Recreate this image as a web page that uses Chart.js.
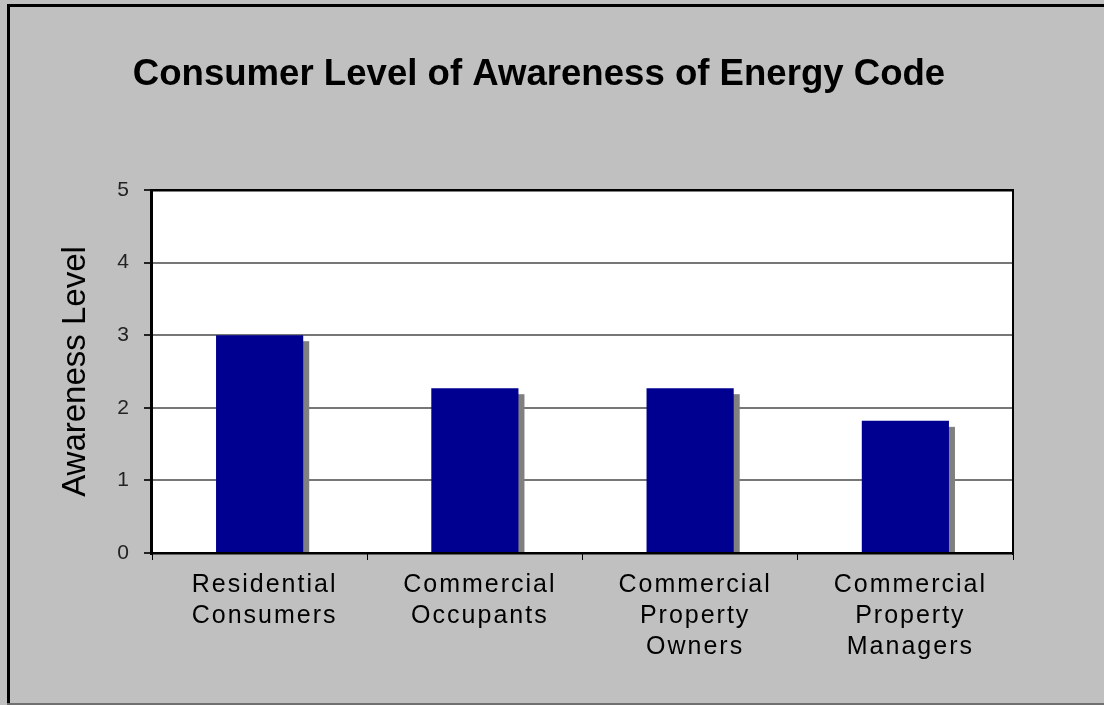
<!DOCTYPE html>
<html><head><meta charset="utf-8">
<script src="https://cdn.jsdelivr.net/npm/chart.js@4.4.1/dist/chart.umd.min.js"></script>
<style>html,body{margin:0;padding:0;background:#c0c0c0;overflow:hidden}#wrap{width:1104px;height:705px;position:relative}</style>
</head><body><div id="wrap"><canvas id="c" width="1104" height="705"></canvas></div>
<script>
const TITLE = 'Consumer Level of Awareness of Energy Code';
const Y_TITLE = 'Awareness Level';
const categories = [
  ['Residential', 'Consumers'],
  ['Commercial', 'Occupants'],
  ['Commercial', 'Property', 'Owners'],
  ['Commercial', 'Property', 'Managers']
];
const awarenessValues = [3.0, 2.27, 2.27, 1.82];
const yTickValues = [0, 1, 2, 3, 4, 5];

const FONT = "'Liberation Sans', Arial, sans-serif";

const deco = {
  id: 'deco',
  beforeDraw(chart) {
    const {ctx, chartArea: a} = chart;
    ctx.save();
    ctx.fillStyle = '#c0c0c0';
    ctx.fillRect(0, 0, chart.width, chart.height);
    ctx.fillStyle = '#000';
    ctx.fillRect(7, 4, 3, 701);
    ctx.fillRect(7, 4, 1097, 3);
    ctx.fillStyle = '#707070';
    ctx.fillRect(7, 703, 1097, 2);
    ctx.fillStyle = '#fff';
    ctx.fillRect(a.left, a.top, a.right - a.left, a.bottom - a.top);
    ctx.restore();
  },
  beforeDatasetsDraw(chart) {
    const {ctx, chartArea: a} = chart;
    ctx.save();
    ctx.beginPath();
    ctx.rect(a.left, a.top, a.right - a.left, a.bottom - a.top);
    ctx.clip();
    ctx.fillStyle = '#808080';
    chart.getDatasetMeta(0).data.forEach(el => {
      const p = el.getProps(['x', 'y', 'base', 'width'], true);
      ctx.fillRect(p.x - p.width / 2 + 6, p.y + 6, p.width, p.base - p.y - 6);
    });
    ctx.restore();
  },
  afterDatasetsDraw(chart) {
    const {ctx, chartArea: a} = chart;
    ctx.save();
    ctx.fillStyle = '#000';
    ctx.fillRect(a.left - 2, a.top - 1, 3, a.bottom - a.top + 3);
    ctx.fillRect(a.left - 2, a.top - 1, a.right - a.left + 3, 2.5);
    ctx.fillRect(a.left - 2, a.bottom - 1, a.right - a.left + 3, 2.5);
    ctx.fillRect(a.right - 1, a.top - 1, 2, a.bottom - a.top + 3);
    ctx.restore();
    ctx.letterSpacing = '2px';
  },
  afterDraw(chart) {
    const ctx = chart.ctx;
    ctx.letterSpacing = '0px';
    ctx.save();
    ctx.fillStyle = '#000';
    ctx.font = 'bold 36.6px ' + FONT;
    ctx.textAlign = 'center';
    ctx.textBaseline = 'alphabetic';
    ctx.fillText(TITLE, 539, 85);
    ctx.restore();
  }
};

new Chart(document.getElementById('c'), {
  type: 'bar',
  data: {
    labels: categories,
    datasets: [{
      data: awarenessValues,
      backgroundColor: '#000090',
      borderWidth: 0,
      barPercentage: 0.405,
      categoryPercentage: 1
    }]
  },
  options: {
    responsive: false,
    animation: false,
    events: [],
    layout: {padding: {top: 190, right: 91, left: 0, bottom: 0}},
    plugins: {legend: {display: false}, title: {display: false}, tooltip: {enabled: false}},
    scales: {
      x: {
        type: 'category',
        afterFit(s) { s.height = 152; },
        border: {display: false},
        grid: {drawOnChartArea: false, offset: true, tickLength: 7, tickColor: '#000', lineWidth: 1},
        ticks: {
          z: 1,
          color: '#000',
          font: {family: FONT, size: 25, lineHeight: 1.24},
          padding: 10,
          labelOffset: 5,
          maxRotation: 0,
          autoSkip: false
        }
      },
      y: {
        min: 0, max: 5,
        afterFit(s) { s.width = 152; },
        border: {display: false},
        grid: {color: '#777', lineWidth: 2, tickLength: 8, tickColor: '#222', tickWidth: 2},
        ticks: {
          stepSize: 1,
          color: '#222',
          font: {family: FONT, size: 21},
          padding: 15,
          callback: v => yTickValues.includes(v) ? String(v) : ''
        },
        title: {
          display: true,
          text: Y_TITLE,
          color: '#000',
          font: {family: FONT, size: 33},
          padding: {top: 56, bottom: 0}
        }
      }
    }
  },
  plugins: [deco]
});
</script>
</body></html>
